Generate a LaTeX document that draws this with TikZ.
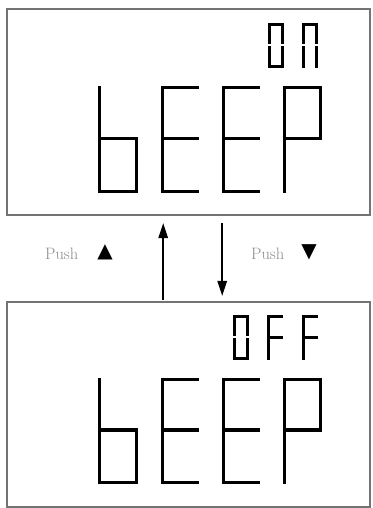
\documentclass[tikz,border=0pt]{standalone}
\usepackage{fontspec}
\usetikzlibrary{arrows.meta}
\newfontfamily\trifont{DejaVu Sans}
\tikzset{
  seg/.style={line width=3.1pt, line cap=rect},
  display/.style={draw=black!55, line width=2.2pt, inner sep=0pt,
    minimum width=363pt, minimum height=206pt},
  push/.style={text=black!45, font=\fontsize{16.5}{18}\selectfont,
    inner sep=0pt, anchor=base west},
  key/.style={font=\trifont\fontsize{20}{20}\selectfont, inner sep=0pt},
  flow/.style={-{Triangle[length=15pt,width=9.5pt]}, line width=1.5pt}
}
% one segment of a seven segment digit, in a unit box
\newcommand\sega{\draw[seg] (0,0) -- (1,0);}
\newcommand\segb{\draw[seg, shorten <=2.8pt] (1,0.49) -- (1,0);}
\newcommand\segc{\draw[seg, shorten <=2.8pt] (1,0.49) -- (1,1);}
\newcommand\segd{\draw[seg] (0,1) -- (1,1);}
\newcommand\sege{\draw[seg, shorten <=2.8pt] (0,0.49) -- (0,1);}
\newcommand\segf{\draw[seg, shorten <=2.8pt] (0,0.49) -- (0,0);}
\newcommand\segg{\draw[seg] (0,0.49) -- (1,0.49);}
\newcommand\digit[5]{%
  \begin{scope}[shift={(#1,#2)}, xscale=#3, yscale=#4]
    \foreach \s in {#5} {\csname seg\s\endcsname}
  \end{scope}}
\begin{document}
\begin{tikzpicture}[x=1pt, y=-1pt]
      \useasboundingbox (0,0) rectangle (372,508);
      \node[display] (beepon) at (188.5,112) {};
      \node[display, minimum height=205pt] (beepoff) at (188.5,404.5) {};
      % top display: ON / bEEP
      \digit{269.5}{24.5}{13}{42}{a,b,c,d,e,f}
      \digit{303.5}{24.5}{13}{42}{a,b,c,e,f}
      \digit{99.5}{87.5}{37}{104}{c,d,e,f,g}
      \digit{162.5}{87.5}{35}{104}{a,d,e,f,g}
      \digit{223.5}{87.5}{35}{104}{a,d,e,f,g}
      \digit{284.5}{87.5}{36}{104}{a,b,e,f,g}
      % bottom display: OFF / bEEP
      \digit{234.5}{316.5}{13}{42}{a,b,c,d,e,f}
      \digit{268.5}{316.5}{13}{42}{a,e,f,g}
      \digit{303.5}{316.5}{13}{42}{a,e,f,g}
      \digit{99.5}{379.5}{37}{103}{c,d,e,f,g}
      \digit{162.5}{379.5}{35}{103}{a,d,e,f,g}
      \digit{223.5}{379.5}{35}{103}{a,d,e,f,g}
      \digit{284.5}{379.5}{36}{103}{a,b,e,f,g}
      % keys between the displays
      \node[push] (pushup) at (45,259) {Push};
      \node[key] (upkey) at (105,252.5) {▲};
      \node[push] (pushdown) at (251,259) {Push};
      \node[key] (downkey) at (309,252.5) {▼};
      \begin{scope}[flow]
        \draw[shorten <=1pt, shorten >=7pt]
          ([xshift=-25.3pt]beepoff.north) to ([xshift=-25.3pt]beepon.south);
        \draw[shorten <=7pt, shorten >=5pt]
          ([xshift=33.7pt]beepon.south) to ([xshift=33.7pt]beepoff.north);
      \end{scope}
    \end{tikzpicture}
\end{document}
